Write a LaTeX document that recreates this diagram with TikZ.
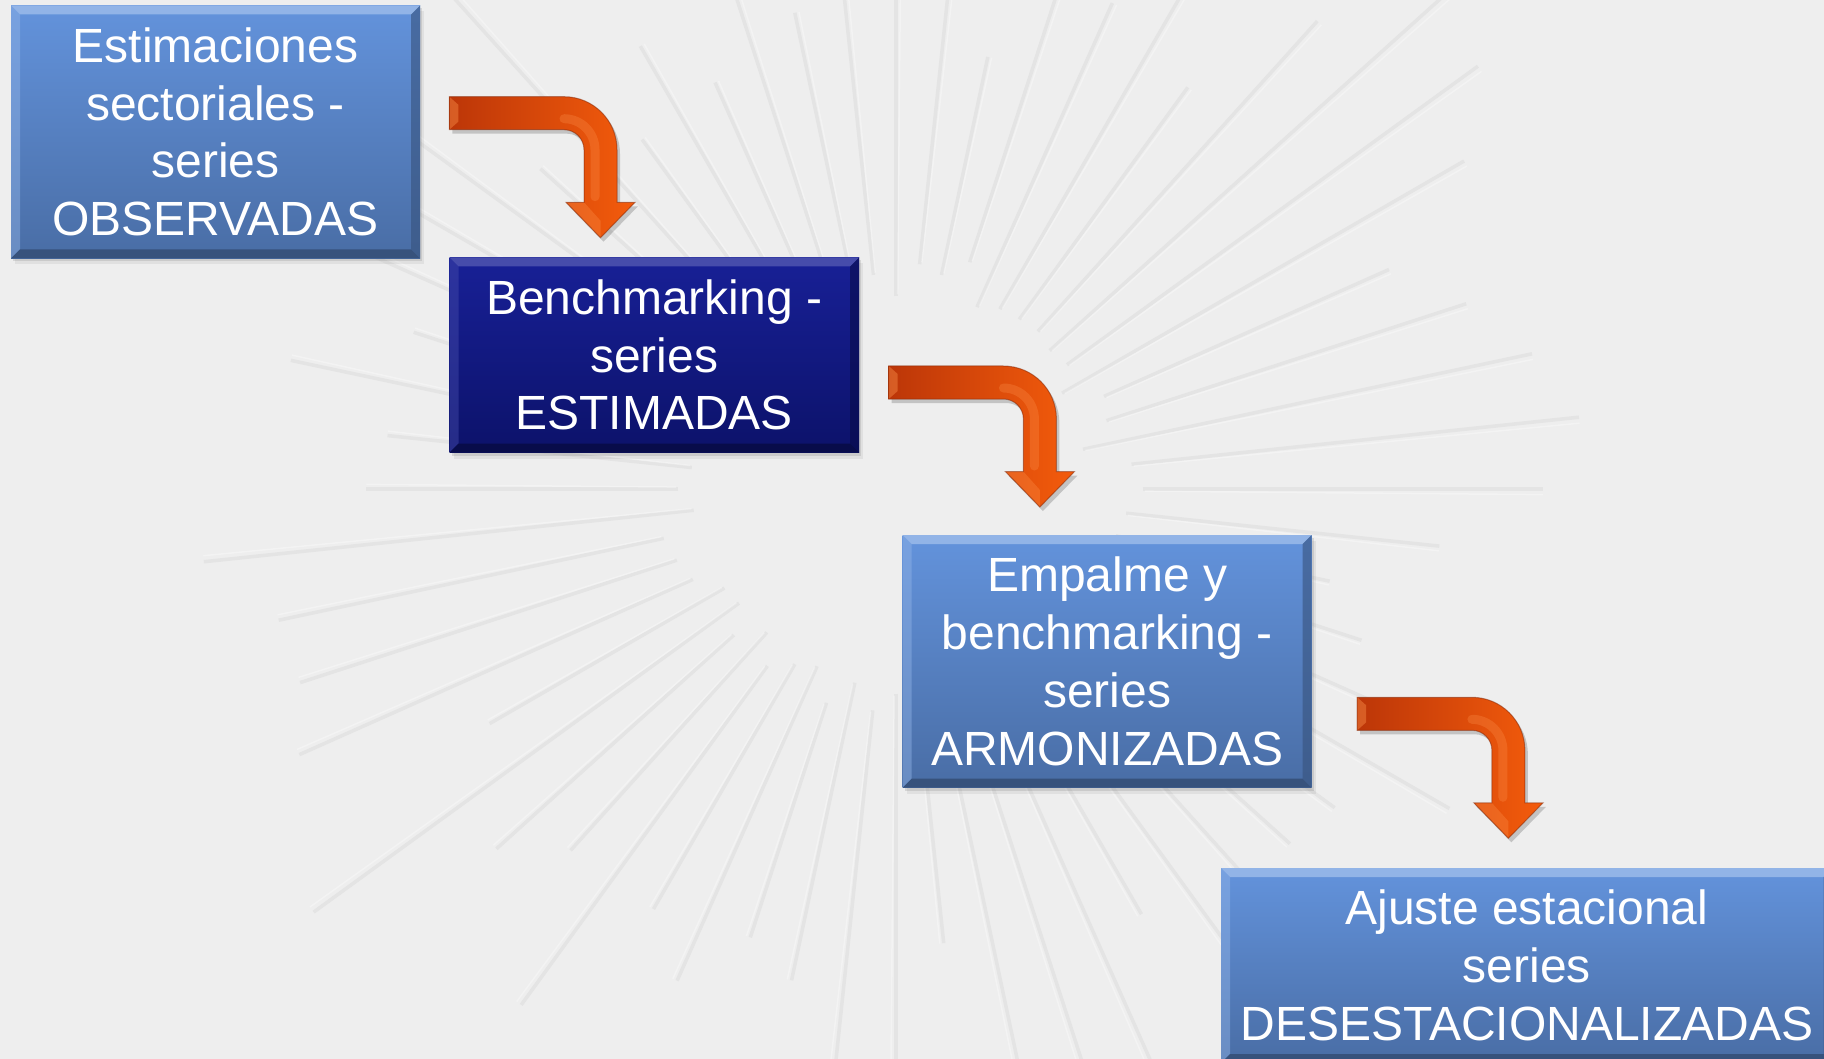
\documentclass[tikz,border=0pt]{standalone}
\usepackage{fontspec}
\setmainfont{Liberation Sans}
\usetikzlibrary{calc,shadows}

\definecolor{skytop}{RGB}{99,147,220}
\definecolor{skybot}{RGB}{73,109,165}
\definecolor{navytop}{RGB}{24,32,150}
\definecolor{navybot}{RGB}{12,18,106}
\definecolor{flamedark}{RGB}{188,54,8}
\definecolor{flamelight}{RGB}{244,92,12}
\definecolor{flamehi}{RGB}{255,150,80}
\definecolor{paper}{RGB}{238,238,238}
\definecolor{raygrey}{RGB}{228,228,228}

% outline of one bent arrow, origin at the top left of its bar
\newcommand{\bentpath}{(0,0) -- (114.7,0) .. controls (143.97,0) and (167.7,23.73) .. (167.7,53) -- (167.7,105.6) -- (185.7,105.6) -- (151.2,141) -- (116.7,105.6) -- (134.7,105.6) -- (134.7,53) .. controls (134.7,41.95) and (125.75,33) .. (114.7,33) -- (0,33) -- cycle}

% bevel round a stage box
\newcommand{\stagebevel}[3]{%
  \fill[#2] (#1.north west) -- (#1.north east) -- ($(#1.north east)+(-9,9)$) -- ($(#1.north west)+(9,9)$) -- cycle;
  \fill[#2,opacity=.45] (#1.north west) -- ($(#1.north west)+(9,9)$) -- ($(#1.south west)+(9,-9)$) -- (#1.south west) -- cycle;
  \fill[#3] (#1.south west) -- ($(#1.south west)+(9,-9)$) -- ($(#1.south east)+(-9,-9)$) -- (#1.south east) -- cycle;
  \fill[#3,opacity=.6] (#1.north east) -- ($(#1.north east)+(-9,9)$) -- ($(#1.south east)+(-9,-9)$) -- (#1.south east) -- cycle;
}

\tikzset{
  stage/.style={anchor=north west, inner sep=0pt, outer sep=0pt, align=center, text=white,
    font=\fontsize{48}{57.7}\selectfont,
    drop shadow={shadow xshift=4pt, shadow yshift=-6pt, opacity=.12},
    drop shadow={shadow xshift=2pt, shadow yshift=-3pt, opacity=.22}},
  sky/.style={stage, top color=skytop, bottom color=skybot},
  navy/.style={stage, top color=navytop, bottom color=navybot},
  bentarrow/.pic={
    \fill[black, opacity=.18, shift={(3,4)}] \bentpath;
    \shade[left color=flamedark, right color=flamelight] \bentpath;
    \fill[flamehi, opacity=.4] (0,0) -- (9,8) -- (9,25) -- (0,33) -- cycle;
    \draw[flamehi, opacity=.28, line width=9, line cap=round] (114.7,22) .. controls (131.8,22) and (145.7,35.9) .. (145.7,53) -- (145.7,100);
    \fill[flamehi, opacity=.3] (116.7,105.6) -- (134.7,105.6) -- (151.2,124) -- (151.2,141) -- cycle;
    \draw[flamedark!70!black, opacity=.5, line width=1] \bentpath;
  }
}

\begin{document}
\begin{tikzpicture}[x=1pt,y=1pt,yscale=-1,xscale=1]
\useasboundingbox (0,0) rectangle (1824,1059);
\fill[paper] (0,0) rectangle (1824,1059);

% faint rays of the paper
\begin{scope}[shift={(896,489)}]
\pgfmathsetseed{11}
\foreach \a in {0,6,...,354} {
  \pgfmathsetmacro{\r}{430+330*rnd}
  \pgfmathsetmacro{\s}{190+60*rnd}
  \draw[raygrey, line width=3.5] (\a:\s) -- (\a:\r);
  \draw[white, opacity=.3, line width=1.5] (\a+0.5:\s+2) -- (\a+0.5:\r);
}
\end{scope}

% stages
\node[sky] (obs) at (11,5.5) [minimum width=409, minimum height=252.8] {Estimaciones\\sectoriales -\\series\\OBSERVADAS};
\node[navy] (est) at (449.5,257.5) [minimum width=409.5, minimum height=195] {Benchmarking -\\series\\ESTIMADAS};
\node[sky] (arm) at (902.7,535) [minimum width=408.8, minimum height=252.7] {Empalme y\\benchmarking -\\series\\ARMONIZADAS};
\node[sky] (des) at (1221,868) [minimum width=611.6, minimum height=195] {Ajuste estacional\\series\\DESESTACIONALIZADAS};

\stagebevel{obs}{white!30!skytop}{black!25!skybot}
\stagebevel{est}{white!20!navytop}{black!30!navybot}
\stagebevel{arm}{white!30!skytop}{black!25!skybot}
\stagebevel{des}{white!30!skytop}{black!25!skybot}

% bent arrows
\coordinate (a1) at (449.3,96.7);
\coordinate (a2) at (888.7,366);
\coordinate (a3) at (1357.2,697.3);
\foreach \c in {a1,a2,a3}
  \pic[transform shape] at (\c) {bentarrow};

\end{tikzpicture}
\end{document}
